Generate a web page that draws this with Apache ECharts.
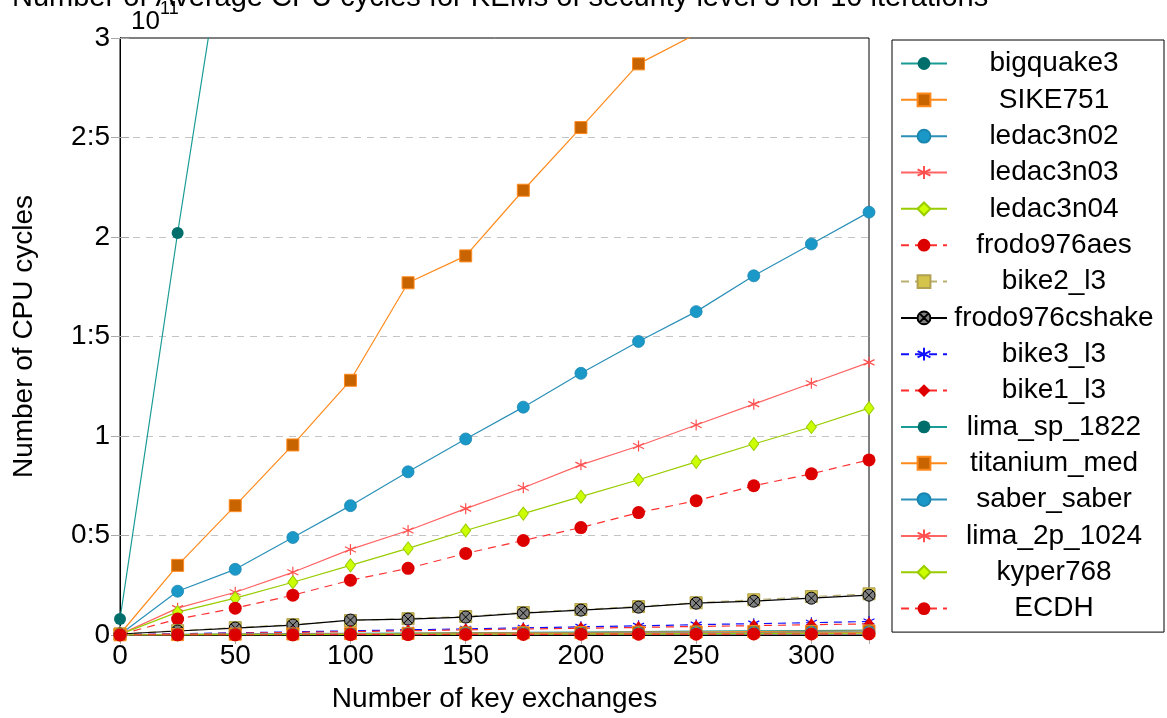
<!DOCTYPE html>
<html>
<head>
<meta charset="utf-8">
<script src="https://cdn.jsdelivr.net/npm/echarts@6/dist/echarts.min.js"></script>
<style>html,body{margin:0;padding:0;background:#fff}#c{width:1167px;height:718px}</style>
</head>
<body>
<div id="c"></div>
<script>
// x: number of key exchanges; y values in units of 1e11 CPU cycles
const xValues = [0, 25, 50, 75, 100, 125, 150, 175, 200, 225, 250, 275, 300, 325];
const xTickLabels = ['0', '50', '100', '150', '200', '250', '300'];
const yTickLabels = ['0', '0:5', '1', '1:5', '2', '2:5', '3'];

const bigquake3      = [0.08, 2.02, 3.86, null, null, null, null, null, null, null, null, null, null, null];
const SIKE751        = [0.005, 0.35, 0.65, 0.955, 1.28, 1.77, 1.905, 2.235, 2.55, 2.87, 3.02, null, null, null];
const ledac3n02      = [0.003, 0.22, 0.33, 0.49, 0.65, 0.82, 0.985, 1.145, 1.315, 1.475, 1.625, 1.805, 1.965, 2.125];
const ledac3n03      = [0.003, 0.135, 0.215, 0.315, 0.43, 0.525, 0.635, 0.74, 0.855, 0.95, 1.055, 1.16, 1.265, 1.37];
const ledac3n04      = [0.003, 0.115, 0.185, 0.265, 0.35, 0.435, 0.525, 0.61, 0.695, 0.78, 0.87, 0.96, 1.045, 1.14];
const frodo976aes    = [0.003, 0.08, 0.135, 0.2, 0.275, 0.335, 0.41, 0.475, 0.54, 0.615, 0.675, 0.75, 0.81, 0.88];
const bike2_l3       = [0.005, 0.022, 0.037, 0.052, 0.073, 0.082, 0.093, 0.113, 0.128, 0.143, 0.162, 0.177, 0.193, 0.207];
const frodo976cshake = [0.005, 0.02, 0.035, 0.05, 0.075, 0.08, 0.09, 0.11, 0.125, 0.14, 0.16, 0.17, 0.185, 0.2];
const bike3_l3       = [0.001, 0.006, 0.011, 0.016, 0.021, 0.026, 0.031, 0.036, 0.041, 0.046, 0.052, 0.057, 0.062, 0.068];
const bike1_l3       = [0.001, 0.005, 0.009, 0.013, 0.017, 0.021, 0.026, 0.030, 0.034, 0.038, 0.043, 0.047, 0.052, 0.056];
const lima_sp_1822   = [0.001, 0.003, 0.005, 0.007, 0.008, 0.010, 0.012, 0.013, 0.015, 0.017, 0.019, 0.021, 0.022, 0.024];
const titanium_med   = [0.001, 0.002, 0.004, 0.005, 0.007, 0.008, 0.010, 0.011, 0.012, 0.014, 0.015, 0.017, 0.018, 0.020];
const saber_saber    = [0.001, 0.002, 0.003, 0.004, 0.005, 0.006, 0.007, 0.008, 0.009, 0.010, 0.011, 0.012, 0.014, 0.015];
const lima_2p_1024   = [0.001, 0.002, 0.002, 0.003, 0.004, 0.005, 0.006, 0.007, 0.007, 0.008, 0.009, 0.010, 0.011, 0.012];
const kyper768       = [0.001, 0.001, 0.002, 0.002, 0.003, 0.004, 0.004, 0.005, 0.006, 0.006, 0.007, 0.008, 0.008, 0.009];
const ECDH           = [0.000, 0.001, 0.001, 0.001, 0.002, 0.002, 0.003, 0.003, 0.004, 0.004, 0.004, 0.005, 0.005, 0.006];

const FONT = "'Liberation Sans', Arial, sans-serif";
const ASTER = 'path://M0,-10L0,10M-8.66,-5L8.66,5M-8.66,5L8.66,-5';
const OTIMES = 'path://M-10,0A10,10,0,1,0,10,0A10,10,0,1,0,-10,0ZM-7.07,-7.07L7.07,7.07M-7.07,7.07L7.07,-7.07';

const styles = {
  teal:   {line: '#1a9c96', dash: 'solid', symbol: 'circle', size: 12, fill: '#006f6b', border: '#006f6b', bw: 0},
  orange: {line: '#ff8a1c', dash: 'solid', symbol: 'rect', size: 12, fill: '#c86400', border: '#ff8a1c', bw: 1},
  blue:   {line: '#2a90b8', dash: 'solid', symbol: 'circle', size: 12, fill: '#1a98c8', border: '#1a86b0', bw: 0.8},
  pink:   {line: '#ff6464', dash: 'solid', symbol: ASTER, size: 11, fill: 'none', border: '#ff5050', bw: 1.2},
  lime:   {line: '#99cc00', dash: 'solid', symbol: 'diamond', size: [10, 13], fill: '#ccff00', border: '#99cc00', bw: 1},
  reddash:{line: '#ff3030', dash: [8, 6], symbol: 'circle', size: 13, fill: '#dd0000', border: '#dd0000', bw: 0},
  olive:  {line: '#b8b070', dash: [8, 6], symbol: 'rect', size: 12, fill: '#d4c44c', border: '#b0a050', bw: 1},
  black:  {line: '#000000', dash: 'solid', symbol: OTIMES, size: 12, fill: '#808080', border: '#000000', bw: 1},
  bluedash:{line: '#1010ff', dash: [8, 6], symbol: ASTER, size: 11, fill: 'none', border: '#1010ff', bw: 1.2},
  reddia: {line: '#ff2a2a', dash: [8, 6], symbol: 'diamond', size: [10, 13], fill: '#e00000', border: '#e00000', bw: 0}
};

const seriesDefs = [
  ['bigquake3', bigquake3, 'teal'],
  ['SIKE751', SIKE751, 'orange'],
  ['ledac3n02', ledac3n02, 'blue'],
  ['ledac3n03', ledac3n03, 'pink'],
  ['ledac3n04', ledac3n04, 'lime'],
  ['frodo976aes', frodo976aes, 'reddash'],
  ['bike2_l3', bike2_l3, 'olive'],
  ['frodo976cshake', frodo976cshake, 'black'],
  ['bike3_l3', bike3_l3, 'bluedash'],
  ['bike1_l3', bike1_l3, 'reddia'],
  ['lima_sp_1822', lima_sp_1822, 'teal'],
  ['titanium_med', titanium_med, 'orange'],
  ['saber_saber', saber_saber, 'blue'],
  ['lima_2p_1024', lima_2p_1024, 'pink'],
  ['kyper768', kyper768, 'lime'],
  ['ECDH', ECDH, 'reddash']
];

const series = seriesDefs.map(([name, vals, key]) => {
  const s = styles[key];
  return {
    name, type: 'line', xAxisIndex: 0, yAxisIndex: 0,
    data: xValues.map((x, i) => [x, vals[i]]),
    symbol: s.symbol, symbolSize: s.size, showSymbol: true,
    connectNulls: false, clip: true,
    lineStyle: {color: s.line, width: 1.2, type: s.dash},
    itemStyle: {color: s.fill, borderColor: s.border, borderWidth: s.bw},
    emphasis: {disabled: true}
  };
});

const chart = echarts.init(document.getElementById('c'), null, {renderer: 'canvas'});
chart.setOption({
  animation: false,
  backgroundColor: '#fff',
  textStyle: {fontFamily: FONT},
  grid: {left: 120, right: 298, top: 38, bottom: 80, show: true, borderColor: '#000', borderWidth: 1, backgroundColor: 'transparent'},
  xAxis: [{
    type: 'value', min: 0, max: 325, interval: 50, position: 'bottom',
    name: 'Number of key exchanges', nameLocation: 'middle', nameGap: 50,
    nameTextStyle: {fontSize: 28, color: '#000', fontFamily: FONT},
    axisLine: {show: true, lineStyle: {color: '#000'}},
    axisTick: {show: true, inside: true, length: 9, lineStyle: {color: '#aaa'}},
    axisLabel: {fontSize: 28, color: '#000', fontFamily: FONT, margin: 7, showMaxLabel: false,
      formatter: v => { const i = Math.round(v / 50); return (v % 50 === 0 && i < xTickLabels.length) ? xTickLabels[i] : ''; }},
    splitLine: {show: false}
  }, {
    type: 'value', min: 0, max: 325, interval: 50, position: 'top',
    axisLine: {show: true, lineStyle: {color: '#000'}}, axisLabel: {show: false},
    axisTick: {show: true, inside: true, length: 9, lineStyle: {color: '#aaa'}},
    splitLine: {show: false}
  }],
  yAxis: [{
    type: 'value', min: 0, max: 3, interval: 0.5, position: 'left',
    name: 'Number of CPU cycles', nameLocation: 'middle', nameGap: 82,
    nameTextStyle: {fontSize: 28, color: '#000', fontFamily: FONT},
    axisLine: {show: true, lineStyle: {color: '#000'}},
    axisTick: {show: true, inside: true, length: 9, lineStyle: {color: '#aaa'}},
    axisLabel: {fontSize: 28, color: '#000', fontFamily: FONT, margin: 10,
      formatter: v => yTickLabels[Math.round(v / 0.5)]},
    splitLine: {show: true, showMinLine: false, showMaxLine: false, lineStyle: {color: '#c4c4c4', type: [7, 6], width: 1}}
  }, {
    type: 'value', min: 0, max: 3, interval: 0.5, position: 'right',
    axisLine: {show: true, lineStyle: {color: '#000'}}, axisLabel: {show: false},
    axisTick: {show: true, inside: true, length: 9, lineStyle: {color: '#aaa'}},
    splitLine: {show: false}
  }],
  legend: {
    orient: 'vertical', left: 892, top: 40,
    padding: [9.5, 8, 9.5, 8],
    itemWidth: 46, itemHeight: 16, itemGap: 8.34, itemTextGap: 5,
    borderColor: '#000', borderWidth: 1, backgroundColor: '#fff',
    selectedMode: false,
    data: seriesDefs.map(d => d[0]),
    formatter: name => '{n|' + name + '}',
    textStyle: {fontFamily: FONT, fontSize: 28, color: '#000',
      rich: {n: {width: 204, align: 'center', fontSize: 28, lineHeight: 28, fontFamily: FONT, color: '#000'}}}
  },
  graphic: [
    {type: 'text', style: {text: 'Number of Average CPU cycles for KEMs of security level 3 for 10 iterations',
      x: 12, y: -2.5, font: "29px 'Liberation Sans', Arial, sans-serif", fill: '#000', verticalAlign: 'middle', align: 'left'}},
    {type: 'text', style: {text: '10', x: 131, y: 22, font: "26px 'Liberation Sans', Arial, sans-serif", fill: '#000', verticalAlign: 'middle'}},
    {type: 'text', style: {text: '11', x: 160, y: 9, font: "18px 'Liberation Sans', Arial, sans-serif", fill: '#000', verticalAlign: 'middle'}}
  ],
  series
});
</script>
</body>
</html>
